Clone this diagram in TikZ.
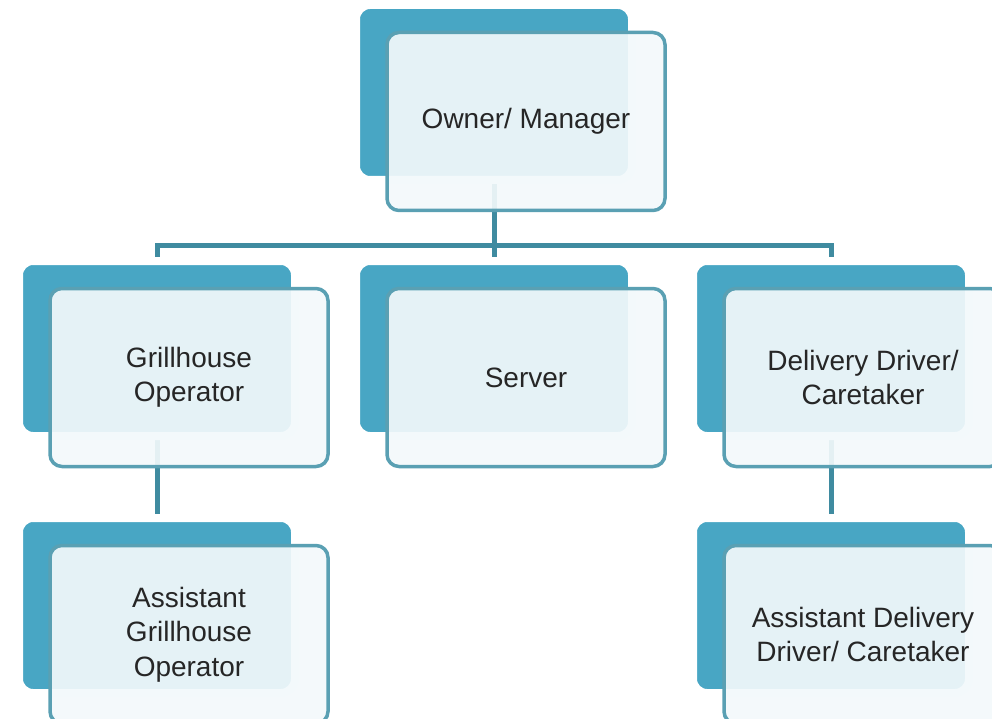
\documentclass[tikz,border=0pt]{standalone}
\usepackage{fontspec}
\setmainfont{Liberation Sans}
\pgfdeclarelayer{bg}
\pgfsetlayers{bg,main}
\definecolor{tealback}{HTML}{48A6C4}
\definecolor{edgefront}{HTML}{5AA0B3}
\definecolor{linecol}{HTML}{3F8BA0}
\definecolor{txtcol}{HTML}{262626}
\definecolor{frontfill}{HTML}{F3F9FB}
\begin{document}
\begin{tikzpicture}[x=1pt,y=-1pt,
 backbox/.style={rectangle, rounded corners=14pt, draw=white, line width=8pt, fill=tealback,
   minimum width=276pt, minimum height=175pt, inner sep=0pt, outer sep=0pt},
 frontbox/.style={rectangle, rounded corners=12pt, draw=edgefront, line width=3.5pt,
   fill=frontfill, fill opacity=0.92, text opacity=1, minimum width=278pt, minimum height=178pt,
   inner sep=0pt, outer sep=0pt, align=center, text=txtcol,
   font=\fontsize{28}{34.5}\selectfont},
 conn/.style={draw=linecol, line width=5pt}]
\useasboundingbox (0,0) rectangle (992,719);

\node[backbox] (ownerB)  at (494,92.5) {};
\node[frontbox] (owner)  at (526,121.5) {Owner/ Manager};

\node[backbox] (grillB)  at (157,348.5) {};
\node[frontbox] (grill)  at (189,377.5) {Grillhouse\\Operator};

\node[backbox] (serverB) at (494,348.5) {};
\node[frontbox] (server) at (526,377.5) {Server};

\node[backbox] (delivB)  at (831,348.5) {};
\node[frontbox] (deliv)  at (863,377.5) {Delivery Driver/\\Caretaker};

\node[backbox] (agrillB) at (157,605.5) {};
\node[frontbox] (agrill) at (189,634.5) {Assistant\\Grillhouse\\Operator};

\node[backbox] (adelivB) at (831,605.5) {};
\node[frontbox] (adeliv) at (863,634.5) {Assistant Delivery\\Driver/ Caretaker};

\begin{pgfonlayer}{bg}
\coordinate (bus) at (494,245);
\draw[conn] (ownerB.south) -- (serverB.north);
\draw[conn] (grillB.north) |- (bus) -| (delivB.north);
\draw[conn] (grillB.south) -- (agrillB.north);
\draw[conn] (delivB.south) -- (adelivB.north);
\end{pgfonlayer}
\end{tikzpicture}
\end{document}
